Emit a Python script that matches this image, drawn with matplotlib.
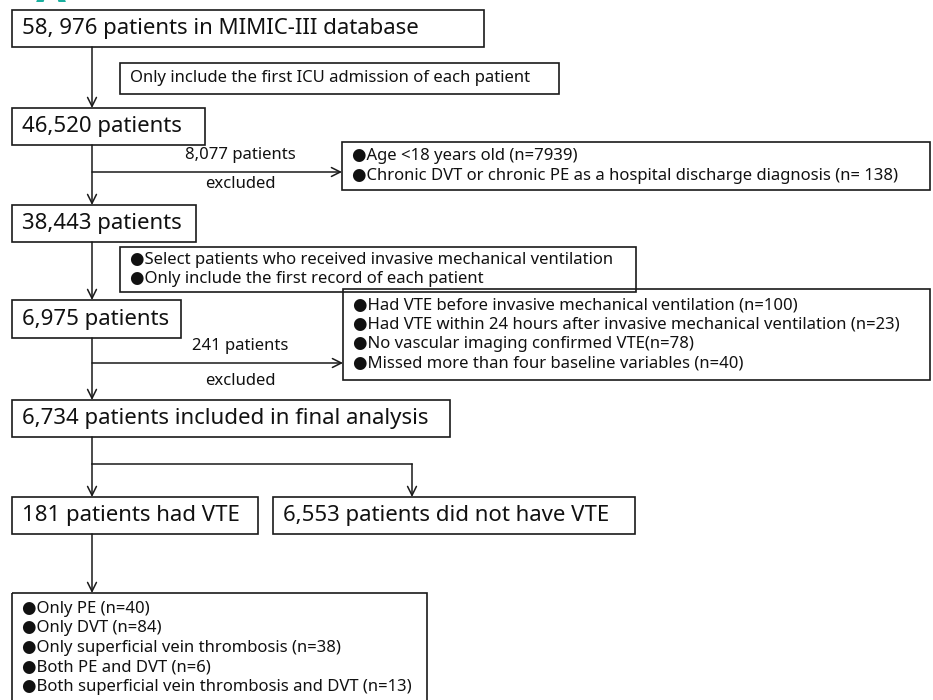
import matplotlib
matplotlib.use("Agg")
import matplotlib.pyplot as plt
from matplotlib.patches import Rectangle

plt.rcParams['font.family'] = ['Noto Sans', 'DejaVu Sans']

# main flow boxes: text and box (x0, y0, x1, y1) in pixel units
main_texts = [
    "58, 976 patients in MIMIC-III database",
    "46,520 patients",
    "38,443 patients",
    "6,975 patients",
    "6,734 patients included in final analysis",
    "181 patients had VTE",
    "6,553 patients did not have VTE",
]
main_boxes = [
    (12, 10, 484, 47),
    (12, 108, 205, 145),
    (12, 205, 196, 242),
    (12, 300, 181, 338),
    (12, 400, 450, 437),
    (12, 497, 258, 534),
    (273, 497, 635, 534),
]

# side boxes (criteria / exclusion lists)
side_texts = [
    ["Only include the first ICU admission of each patient"],
    ["●Age <18 years old (n=7939)",
     "●Chronic DVT or chronic PE as a hospital discharge diagnosis (n= 138)"],
    ["●Select patients who received invasive mechanical ventilation",
     "●Only include the first record of each patient"],
    ["●Had VTE before invasive mechanical ventilation (n=100)",
     "●Had VTE within 24 hours after invasive mechanical ventilation (n=23)",
     "●No vascular imaging confirmed VTE(n=78)",
     "●Missed more than four baseline variables (n=40)"],
    ["●Only PE (n=40)",
     "●Only DVT (n=84)",
     "●Only superficial vein thrombosis (n=38)",
     "●Both PE and DVT (n=6)",
     "●Both superficial vein thrombosis and DVT (n=13)"],
]
side_boxes = [
    (120, 63, 559, 94),
    (342, 142, 930, 190),
    (120, 247, 636, 292),
    (343, 289, 930, 380),
    (12, 593, 427, 703),
]

excl_counts = ["8,077 patients", "241 patients"]
excl_arrow_y = [172, 363]
excl_targets = [342, 343]

fig = plt.figure(figsize=(9.33, 7.0), dpi=100)
ax = fig.add_axes([0, 0, 1, 1])
ax.set_xlim(0, 933)
ax.set_ylim(700, 0)
ax.axis('off')

edge = '#1a1a1a'
spine_x = 92
big_fs = 16
small_fs = 12
line_gap = 19.5

# cut-off panel label at the very top (only its foot shows)
ax.text(51, 2, "A", color='#1aaf9f', fontsize=28, fontweight='bold',
        ha='center', va='baseline', family='DejaVu Sans')

for txt, (x0, y0, x1, y1) in zip(main_texts, main_boxes):
    ax.add_patch(Rectangle((x0, y0), x1 - x0, y1 - y0, fill=False,
                           edgecolor=edge, lw=1.2))
    ax.text(x0 + 10, (y0 + y1) / 2, txt, fontsize=big_fs, ha='left',
            va='center', color='#111111')

for lines, (x0, y0, x1, y1) in zip(side_texts, side_boxes):
    ax.add_patch(Rectangle((x0, y0), x1 - x0, y1 - y0, fill=False,
                           edgecolor=edge, lw=1.2, clip_on=False))
    n = len(lines)
    mid = (y0 + y1) / 2 if x0 != 12 else y0 + 16 + (n - 1) * line_gap / 2
    for i, ln in enumerate(lines):
        yy = mid + (i - (n - 1) / 2) * line_gap
        ax.text(x0 + 10, yy, ln, fontsize=small_fs, ha='left', va='center',
                color='#111111')

arrow_kw = dict(arrowstyle='->', color=edge, lw=1.1,
                mutation_scale=16, shrinkA=0, shrinkB=0)

# vertical spine arrows between main boxes
for (a, b) in [(0, 1), (1, 2), (2, 3), (3, 4)]:
    ax.annotate("", xy=(spine_x, main_boxes[b][1]),
                xytext=(spine_x, main_boxes[a][3]), arrowprops=arrow_kw)

# split into VTE / no VTE
split_y = 464
ax.annotate("", xy=(spine_x, main_boxes[5][1]),
            xytext=(spine_x, main_boxes[4][3]), arrowprops=arrow_kw)
branch_x = 412
ax.plot([spine_x, branch_x], [split_y, split_y], color=edge, lw=1.1)
ax.annotate("", xy=(branch_x, main_boxes[6][1]),
            xytext=(branch_x, split_y), arrowprops=arrow_kw)

# VTE subtypes
ax.annotate("", xy=(spine_x, side_boxes[4][1]),
            xytext=(spine_x, main_boxes[5][3]), arrowprops=arrow_kw)

# exclusion arrows
for cnt, yy, tx in zip(excl_counts, excl_arrow_y, excl_targets):
    ax.annotate("", xy=(tx, yy), xytext=(spine_x, yy), arrowprops=arrow_kw)
    ax.text(240, yy - 17, cnt, fontsize=small_fs, ha='center', va='center',
            color='#111111')
    ax.text(240, yy + 12 if yy < 200 else yy + 18, "excluded",
            fontsize=small_fs, ha='center', va='center', color='#111111')

fig.savefig("out.png", dpi=100)
